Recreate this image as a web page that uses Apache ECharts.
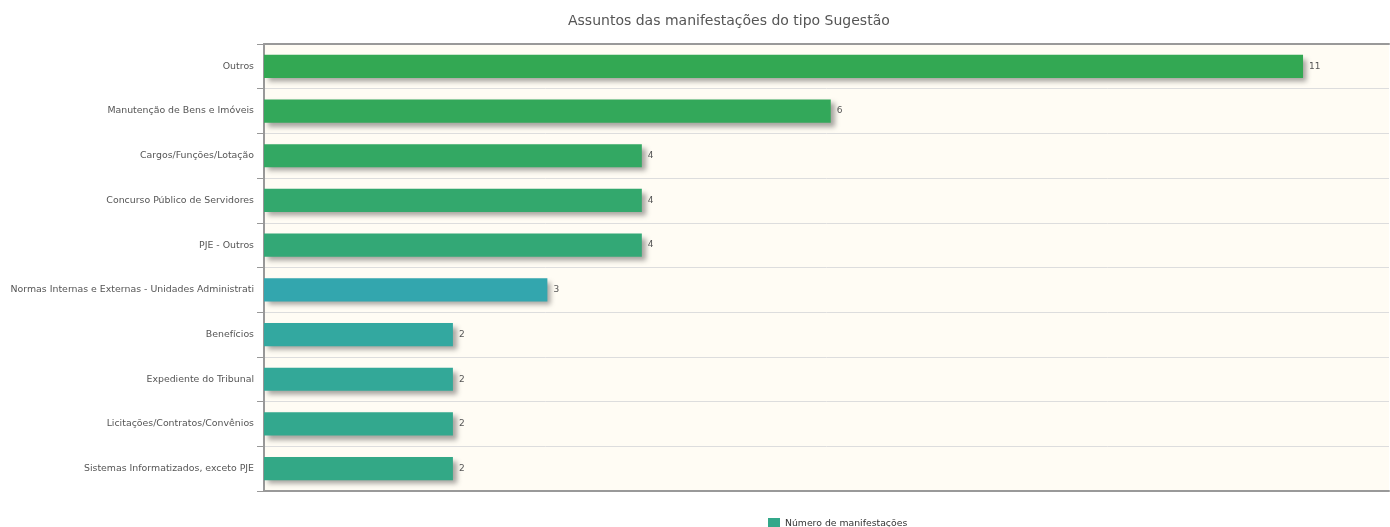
<!DOCTYPE html>
<html>
<head>
<meta charset="utf-8">
<script src="https://cdn.jsdelivr.net/npm/echarts@6/dist/echarts.min.js"></script>
<style>
  html, body { margin: 0; padding: 0; background: #fff; }
  #chart { width: 1390px; height: 527px; }
</style>
</head>
<body>
<div id="chart"></div>
<script>
var categories = [
  'Outros',
  'Manutenção de Bens e Imóveis',
  'Cargos/Funções/Lotação',
  'Concurso Público de Servidores',
  'PJE - Outros',
  'Normas Internas e Externas - Unidades Administrati',
  'Benefícios',
  'Expediente do Tribunal',
  'Licitações/Contratos/Convênios',
  'Sistemas Informatizados, exceto PJE'
]
var values = [11, 6, 4, 4, 4, 3, 2, 2, 2, 2]
var barColors = [
  '#33a853', '#33a85a', '#33a863', '#33a86d', '#33a876',
  '#33a6ae', '#33a8a0', '#33a898', '#33a88e', '#33a886'
]
var seriesName = 'Número de manifestações'

var chart = echarts.init(document.getElementById('chart'))
var option = {
  animation: false,
  textStyle: { fontFamily: 'DejaVu Sans' },
  title: {
    text: 'Assuntos das manifestações do tipo Sugestão',
    left: 563,
    top: 9,
    textStyle: { fontSize: 14, fontWeight: 'normal', color: '#555', fontFamily: 'DejaVu Sans' }
  },
  legend: {
    data: [{ name: seriesName, icon: 'rect', itemStyle: { color: '#33a88a' } }],
    left: 763,
    top: 513,
    itemWidth: 12,
    itemHeight: 11,
    itemGap: 3,
    textStyle: { fontSize: 9.3, color: '#333' }
  },
  grid: {
    left: 264,
    right: 1,
    top: 44,
    bottom: 36,
    show: true,
    backgroundColor: '#fffcf4',
    borderWidth: 0
  },
  xAxis: [
    {
      type: 'value',
      min: 0,
      max: 11.91,
      position: 'bottom',
      axisLine: { show: true, lineStyle: { color: '#999', width: 2 } },
      axisTick: { show: false },
      axisLabel: { show: false },
      splitLine: { show: false }
    },
    {
      type: 'value',
      min: 0,
      max: 11.91,
      position: 'top',
      axisLine: { show: true, lineStyle: { color: '#999', width: 2 } },
      axisTick: { show: false },
      axisLabel: { show: false },
      splitLine: { show: false }
    }
  ],
  yAxis: {
    type: 'category',
    data: categories,
    inverse: true,
    axisLine: { show: true, lineStyle: { color: '#999', width: 2 } },
    axisTick: { show: true, length: 7, lineStyle: { color: '#999', width: 1 } },
    axisLabel: { fontSize: 9.4, color: '#555', margin: 10 },
    splitLine: { show: true, lineStyle: { color: '#ddd', width: 1 } }
  },
  series: [
    {
      name: seriesName,
      type: 'bar',
      barWidth: '52%',
      data: values.map(function (v, i) {
        return { value: v, itemStyle: { color: barColors[i] } }
      }),
      itemStyle: {
        shadowBlur: 5,
        shadowOffsetX: 4,
        shadowOffsetY: 4,
        shadowColor: 'rgba(0,0,0,0.35)'
      },
      label: {
        show: true,
        position: 'right',
        distance: 6,
        fontSize: 9,
        color: '#555'
      }
    }
  ]
}
chart.setOption(option)
</script>
</body>
</html>
